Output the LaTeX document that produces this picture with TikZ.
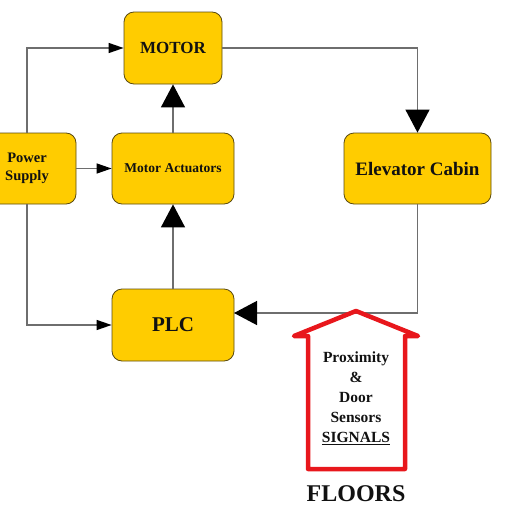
\documentclass[tikz,border=0pt]{standalone}
\usepackage{fontspec}
\setmainfont{Liberation Serif}
\usetikzlibrary{arrows.meta}
\definecolor{boxfill}{HTML}{FFCC00}
\definecolor{boxdraw}{HTML}{5A4A10}
\definecolor{wire}{HTML}{6E6E6E}
\definecolor{housered}{HTML}{E8171C}
\definecolor{ink}{HTML}{111111}
\begin{document}
\begin{tikzpicture}[x=1pt,y=-1pt,
  blk/.style={draw=boxdraw,line width=0.8pt,fill=boxfill,rounded corners=10pt,
    inner sep=0pt,align=center,text=ink,font=\bfseries},
  wireline/.style={draw=wire,line width=1.3pt},
  small/.style={-{Triangle[length=15pt,width=10pt,color=black]}},
  big/.style={-{Triangle[length=23pt,width=24pt,color=black]}}]
\useasboundingbox (0,0) rectangle (530,530);
\clip (0,0) rectangle (530,530);
\node[blk,minimum width=98pt,minimum height=72pt,font=\bfseries\fontsize{17}{19}\selectfont] (motor) at (173,48) {MOTOR};
\node[blk,minimum width=122pt,minimum height=71pt,font=\bfseries\fontsize{13.5}{16}\selectfont] (act) at (173,168.5) {Motor Actuators};
\node[blk,minimum width=98pt,minimum height=71pt,font=\bfseries\fontsize{14.5}{18}\selectfont] (power) at (27,168.5) {Power\\Supply};
\node[blk,minimum width=147pt,minimum height=71pt,font=\bfseries\fontsize{19}{22}\selectfont] (cabin) at (417.5,168.5) {Elevator Cabin};
\node[blk,minimum width=122pt,minimum height=72pt,font=\bfseries\fontsize{21}{24}\selectfont] (plc) at (173,325) {PLC};
\coordinate (plcin) at (234,313);
% connectors
\draw[wireline,small] (power.north) |- (motor.west);
\draw[wireline,small] (power.east) -- (act.west);
\draw[wireline,small] (power.south) |- (plc.west);
\draw[wireline,big] (act.north) -- (motor.south);
\draw[wireline,big] (plc.north) -- (act.south);
\draw[wireline,big] (motor.east) -| (cabin.north);
\draw[wireline,big] (cabin.south) |- (plcin);
% house
\draw[housered,line width=4.5pt,line join=round,line cap=round]
  (308,469) -- (308,336) -- (294,336) -- (356,311) -- (418,336) -- (405,336) -- (405,469) -- cycle;
\node[align=center,text=ink,font=\bfseries\fontsize{15.5}{20}\selectfont] (sensors) at (356,398)
  {Proximity\\\&\\Door\\Sensors\\\underline{SIGNALS}};
\node[text=ink,font=\bfseries\fontsize{24}{28}\selectfont] (floors) at (356,494) {FLOORS};
\end{tikzpicture}
\end{document}
